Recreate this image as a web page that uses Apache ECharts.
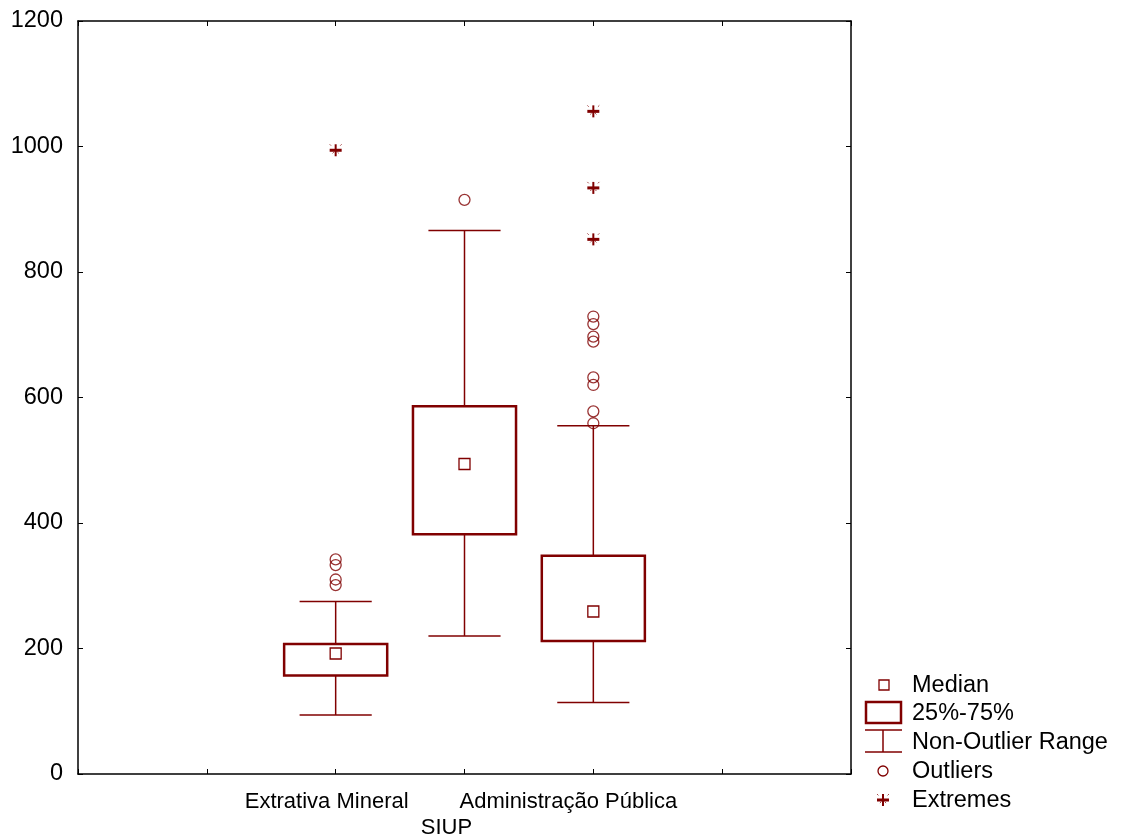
<!DOCTYPE html>
<html>
<head>
<meta charset="utf-8">
<script src="https://cdn.jsdelivr.net/npm/echarts@6/dist/echarts.min.js"></script>
<style>
  html, body { margin: 0; padding: 0; background: #fff; }
  #chart { width: 1121px; height: 840px; }
</style>
</head>
<body>
<div id="chart"></div>
<script>
// category slots on the x axis (blank ones pad the ends, like the original plot)
const slots = ['', ' ', 'Extrativa Mineral', 'SIUP', 'Administração Pública', '  ', '   '];
const categories = ['Extrativa Mineral', 'SIUP', 'Administração Pública'];

// box statistics per category
const whiskerLow = [94, 220, 114];
const quartile1 = [157, 382, 212];
const medians = [192, 494, 259];
const quartile3 = [207, 586, 348];
const whiskerHigh = [275, 866, 555];

// outliers and extremes per category
const outliers = [[342, 333, 310, 301], [915], [729, 717, 697, 689, 632, 620, 578, 559]];
const extremes = [[994], [], [1056, 934, 852]];

const yTicks = [0, 200, 400, 600, 800, 1000, 1200];

const RED = '#800000';
const FONT = '"Liberation Sans", Arial, sans-serif';

const boxData = categories.map((c, i) => [
  slots.indexOf(c), whiskerLow[i], quartile1[i], medians[i], quartile3[i], whiskerHigh[i]
]);
const outlierData = [];
const extremeData = [];
categories.forEach((c, i) => {
  outliers[i].forEach(v => outlierData.push([slots.indexOf(c), v]));
  extremes[i].forEach(v => extremeData.push([slots.indexOf(c), v]));
});

function renderBox(params, api) {
  const x = api.value(0);
  const band = api.size([1, 0])[0];
  const half = band * 0.4;
  const cap = band * 0.28;
  const pLow = api.coord([x, api.value(1)]);
  const pQ1 = api.coord([x, api.value(2)]);
  const pMed = api.coord([x, api.value(3)]);
  const pQ3 = api.coord([x, api.value(4)]);
  const pHigh = api.coord([x, api.value(5)]);
  const cx = pMed[0];
  const thin = { stroke: RED, lineWidth: 1.5 };
  return {
    type: 'group',
    children: [
      { type: 'line', shape: { x1: cx, y1: pLow[1], x2: cx, y2: pQ1[1] }, style: thin },
      { type: 'line', shape: { x1: cx, y1: pQ3[1], x2: cx, y2: pHigh[1] }, style: thin },
      { type: 'line', shape: { x1: cx - cap, y1: pLow[1], x2: cx + cap, y2: pLow[1] }, style: thin },
      { type: 'line', shape: { x1: cx - cap, y1: pHigh[1], x2: cx + cap, y2: pHigh[1] }, style: thin },
      { type: 'rect', shape: { x: cx - half, y: pQ3[1], width: half * 2, height: pQ1[1] - pQ3[1] },
        style: { fill: '#fff', stroke: RED, lineWidth: 2.5 } },
      { type: 'rect', shape: { x: cx - 5.5, y: pMed[1] - 5.5, width: 11, height: 11 },
        style: { fill: 'none', stroke: RED, lineWidth: 1.3 } }
    ]
  };
}

function starShape(cx, cy) {
  return [
    { type: 'line', shape: { x1: cx - 6, y1: cy, x2: cx + 6, y2: cy }, style: { stroke: RED, lineWidth: 3 } },
    { type: 'line', shape: { x1: cx, y1: cy - 6, x2: cx, y2: cy + 6 }, style: { stroke: RED, lineWidth: 2 } },
    { type: 'line', shape: { x1: cx - 6, y1: cy - 6, x2: cx + 6, y2: cy + 6 },
      style: { stroke: RED, lineWidth: 1, lineDash: [2, 8.9], opacity: 0.7 } },
    { type: 'line', shape: { x1: cx + 6, y1: cy - 6, x2: cx - 6, y2: cy + 6 },
      style: { stroke: RED, lineWidth: 1, lineDash: [2, 8.9], opacity: 0.7 } }
  ];
}

function renderExtreme(params, api) {
  const p = api.coord([api.value(0), api.value(1)]);
  return { type: 'group', children: starShape(p[0], p[1]) };
}

const chart = echarts.init(document.getElementById('chart'));

const labelShift = { 'Extrativa Mineral': 'a', 'SIUP': 'b', 'Administração Pública': 'c' };

const tickStyle = { show: true, inside: true, length: 5, lineStyle: { color: '#000', width: 1 } };
const axisLine = { show: true, onZero: false, lineStyle: { color: '#000', width: 1.5 } };

const legendText = (y, t) => ({
  type: 'text', x: 912, y: y,
  style: { text: t, font: '23.5px ' + FONT, fill: '#000', verticalAlign: 'middle' }
});

chart.setOption({
  animation: false,
  backgroundColor: '#fff',
  grid: { left: 78, right: 270, top: 21, bottom: 66 },
  xAxis: [
    {
      type: 'category', data: slots, boundaryGap: false, position: 'bottom',
      axisLine: axisLine, axisTick: Object.assign({ interval: 0 }, tickStyle),
      axisLabel: {
        interval: 0, margin: 17, color: '#000', fontFamily: FONT, fontSize: 22,
        formatter: v => {
          const k = labelShift[v];
          if (!k) return '';
          return k === 'b' ? '\n{b|' + v + '}' : '{' + k + '|' + v + '}';
        },
        rich: {
          a: { fontSize: 22, fontFamily: FONT, color: '#000', padding: [0, 18, 0, 0] },
          b: { fontSize: 22, fontFamily: FONT, color: '#000', padding: [4, 36, 0, 0] },
          c: { fontSize: 22, fontFamily: FONT, color: '#000', padding: [0, 50, 0, 0] }
        }
      },
      splitLine: { show: false }
    },
    {
      type: 'category', data: slots, boundaryGap: false, position: 'top',
      axisLine: axisLine, axisTick: Object.assign({ interval: 0 }, tickStyle),
      axisLabel: { show: false }, splitLine: { show: false }
    }
  ],
  yAxis: [
    {
      type: 'value', min: yTicks[0], max: yTicks[yTicks.length - 1], interval: 200, position: 'left',
      axisLine: axisLine, axisTick: tickStyle,
      axisLabel: { margin: 15, color: '#000', fontFamily: FONT, fontSize: 23.5, formatter: v => String(v) },
      splitLine: { show: false }
    },
    {
      type: 'value', min: yTicks[0], max: yTicks[yTicks.length - 1], interval: 200, position: 'right',
      axisLine: axisLine, axisTick: tickStyle,
      axisLabel: { show: false }, splitLine: { show: false }
    }
  ],
  series: [
    {
      type: 'custom', name: 'Box', renderItem: renderBox, data: boxData,
      encode: { x: 0, y: [1, 2, 3, 4, 5] }, z: 2
    },
    {
      type: 'scatter', name: 'Outliers', data: outlierData, symbol: 'circle', symbolSize: 11,
      itemStyle: { color: 'rgba(255,255,255,0)', borderColor: RED, borderWidth: 1.3 }, z: 3
    },
    {
      type: 'custom', name: 'Extremes', renderItem: renderExtreme, data: extremeData,
      encode: { x: 0, y: 1 }, z: 3
    }
  ],
  graphic: [
    { type: 'rect', shape: { x: 879, y: 680, width: 10, height: 10 },
      style: { fill: 'none', stroke: RED, lineWidth: 1.3 } },
    legendText(686, 'Median'),
    { type: 'rect', shape: { x: 866, y: 702, width: 35, height: 21 },
      style: { fill: 'none', stroke: RED, lineWidth: 2.5 } },
    legendText(714, '25%-75%'),
    { type: 'line', shape: { x1: 865, y1: 730, x2: 902, y2: 730 }, style: { stroke: RED, lineWidth: 1.5 } },
    { type: 'line', shape: { x1: 865, y1: 752, x2: 902, y2: 752 }, style: { stroke: RED, lineWidth: 1.5 } },
    { type: 'line', shape: { x1: 883, y1: 730, x2: 883, y2: 752 }, style: { stroke: RED, lineWidth: 1.5 } },
    legendText(743, 'Non-Outlier Range'),
    { type: 'circle', shape: { cx: 883, cy: 771, r: 5 }, style: { fill: 'none', stroke: RED, lineWidth: 1.3 } },
    legendText(772, 'Outliers'),
    { type: 'group', children: starShape(883, 800) },
    legendText(801, 'Extremes')
  ]
});
</script>
</body>
</html>
